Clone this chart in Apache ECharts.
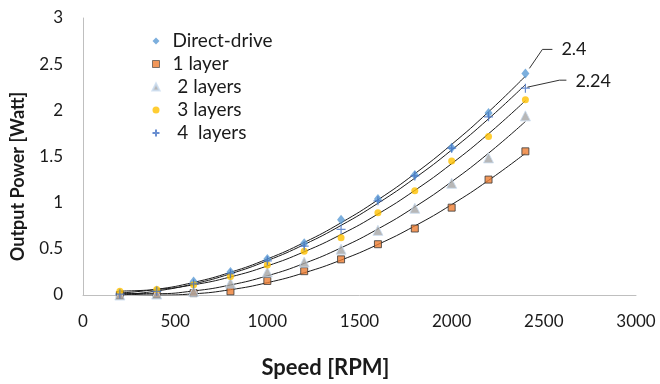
<!DOCTYPE html>
<html>
<head>
<meta charset="utf-8">
<script src="https://cdn.jsdelivr.net/npm/echarts@6/dist/echarts.min.js"></script>
<style>
html,body{margin:0;padding:0;background:#fff;}
#chart{width:660px;height:384px;}
</style>
</head>
<body>
<div id="chart"></div>
<script>
// ---- data ----
var speeds = [200, 400, 600, 800, 1000, 1200, 1400, 1600, 1800, 2000, 2200, 2400];
var directDrive = [0.02, 0.05, 0.145, 0.25, 0.39, 0.56, 0.815, 1.04, 1.30, 1.595, 1.97, 2.40];
var layer1 = [0.00, 0.01, 0.02, 0.04, 0.152, 0.258, 0.386, 0.55, 0.72, 0.946, 1.25, 1.556];
var layer2 = [0.00, 0.01, 0.04, 0.13, 0.25, 0.357, 0.496, 0.70, 0.94, 1.21, 1.485, 1.94];
var layer3 = [0.04, 0.06, 0.11, 0.20, 0.325, 0.475, 0.62, 0.89, 1.13, 1.45, 1.716, 2.115];
var layer4 = [0.01, 0.04, 0.12, 0.23, 0.37, 0.53, 0.71, 1.02, 1.29, 1.59, 1.93, 2.24];
var seriesNames = ['Direct-drive', '1 layer', ' 2 layers', ' 3 layers', ' 4  layers'];
var annotations = ['2.4', '2.24'];
var xTicks = {min: 0, max: 3000, interval: 500};
var yTicks = {min: 0, max: 3, interval: 0.5};

// quadratic least-squares trendline (like Excel polynomial order 2)
function polyFit2(xs, ys) {
  var n = xs.length, s = [0,0,0,0,0], t = [0,0,0];
  for (var i = 0; i < n; i++) {
    var x = xs[i] / 1000, y = ys[i], p = 1;
    for (var k = 0; k < 5; k++) { s[k] += p; if (k < 3) t[k] += p * y; p *= x; }
  }
  var A = [[s[0], s[1], s[2], t[0]], [s[1], s[2], s[3], t[1]], [s[2], s[3], s[4], t[2]]];
  for (var c = 0; c < 3; c++) {
    for (var r = c + 1; r < 3; r++) {
      var f = A[r][c] / A[c][c];
      for (var j = c; j < 4; j++) A[r][j] -= f * A[c][j];
    }
  }
  var b = [0,0,0];
  for (var r2 = 2; r2 >= 0; r2--) {
    var v = A[r2][3];
    for (var j2 = r2 + 1; j2 < 3; j2++) v -= A[r2][j2] * b[j2];
    b[r2] = v / A[r2][r2];
  }
  return xs.map(function (xx) { var x = xx / 1000; return [xx, b[0] + b[1] * x + b[2] * x * x]; });
}
function pairs(ys) { return speeds.map(function (x, i) { return [x, ys[i]]; }); }

var FONT = 'Lato';
var allData = [directDrive, layer1, layer2, layer3, layer4];
var styles = [
  {symbol: 'diamond', symbolSize: [8, 10], itemStyle: {color: '#5B9BD5'}},
  {symbol: 'rect', symbolSize: 7, itemStyle: {color: '#ED7D31', borderColor: '#3a3a3a', borderWidth: 1}},
  {symbol: 'triangle', symbolSize: 10, itemStyle: {color: '#A5A5A5', borderColor: '#C9DCF0', borderWidth: 1}},
  {symbol: 'circle', symbolSize: 7, itemStyle: {color: '#FFC000'}},
  {symbol: 'path://M0,5L10,5M5,0L5,10', symbolSize: 9, itemStyle: {color: 'none', borderColor: '#4472C4', borderWidth: 1.2}}
];

var series = [];
allData.forEach(function (ys) {
  series.push({
    type: 'line', data: polyFit2(speeds, ys), smooth: true, showSymbol: false, symbol: 'none',
    lineStyle: {color: '#1a1a1a', width: 1}, silent: true, z: 1, legendHoverLink: false
  });
});
allData.forEach(function (ys, i) {
  var s = {type: 'scatter', name: seriesNames[i], data: pairs(ys), z: 3};
  for (var k in styles[i]) s[k] = styles[i][k];
  series.push(s);
});

var legendData = seriesNames.map(function (n, i) {
  var item = {name: n};
  if (i === 1) item.itemStyle = {borderWidth: 0.8};
  return item;
});

var chart = echarts.init(document.getElementById('chart'));
var textColor = '#1a1a1a';
chart.setOption({
  animation: false,
  textStyle: {fontFamily: FONT},
  grid: {left: 83, right: 24, top: 18, bottom: 85, containLabel: false},
  xAxis: {
    type: 'value', min: xTicks.min, max: xTicks.max, interval: xTicks.interval,
    axisLine: {show: true, lineStyle: {color: '#BFBFBF', width: 1}},
    axisTick: {show: false}, splitLine: {show: false},
    axisLabel: {color: textColor, fontSize: 17, margin: 18, fontFamily: FONT,
      formatter: function (v) { return String(v); }},
    name: 'Speed [RPM]', nameLocation: 'middle', nameGap: 62,
    nameTextStyle: {fontWeight: 'bold', fontSize: 22, color: textColor, fontFamily: FONT, padding: [0, 68, 0, 0]}
  },
  yAxis: {
    type: 'value', min: yTicks.min, max: yTicks.max, interval: yTicks.interval,
    axisLine: {show: true, lineStyle: {color: '#BFBFBF', width: 1}},
    axisTick: {show: false}, splitLine: {show: false},
    axisLabel: {color: textColor, fontSize: 17, margin: 20, fontFamily: FONT,
      formatter: function (v) { return String(v); }},
    name: 'Output Power [Watt]', nameLocation: 'middle', nameGap: 56,
    nameTextStyle: {fontWeight: 'bold', fontSize: 18, color: textColor, fontFamily: FONT, padding: [0, 40, 0, 0]}
  },
  legend: {
    data: legendData, orient: 'vertical', left: 145, top: 26,
    itemWidth: 7, itemHeight: 7, itemGap: 3,
    textStyle: {color: textColor, fontSize: 19, fontFamily: FONT, lineHeight: 20, padding: [0, 0, 0, 8]},
    selectedMode: false
  },
  series: series
});

// data-label style annotations with leader lines, anchored to the last points
function addAnnotations() {
  var lastX = speeds[speeds.length - 1];
  var p1 = chart.convertToPixel({gridIndex: 0}, [lastX, directDrive[directDrive.length - 1]]);
  var p2 = chart.convertToPixel({gridIndex: 0}, [lastX, layer4[layer4.length - 1]]);
  chart.setOption({
    graphic: [
      {type: 'polyline', shape: {points: [[p1[0] + 4, p1[1] - 5], [p1[0] + 17, p1[1] - 24], [p1[0] + 27, p1[1] - 24]]},
        style: {stroke: '#333', lineWidth: 1, fill: null}, z: 10},
      {type: 'text', x: p1[0] + 36, y: p1[1] - 24,
        style: {text: annotations[0], fill: textColor, font: '18px Lato', textVerticalAlign: 'middle'}, z: 10},
      {type: 'polyline', shape: {points: [[p2[0] + 2, p2[1] - 1], [p2[0] + 34, p2[1] - 8], [p2[0] + 41, p2[1] - 8]]},
        style: {stroke: '#333', lineWidth: 1, fill: null}, z: 10},
      {type: 'text', x: p2[0] + 50, y: p2[1] - 7,
        style: {text: annotations[1], fill: textColor, font: '18px Lato', textVerticalAlign: 'middle'}, z: 10}
    ]
  });
}
addAnnotations();
</script>
</body>
</html>
